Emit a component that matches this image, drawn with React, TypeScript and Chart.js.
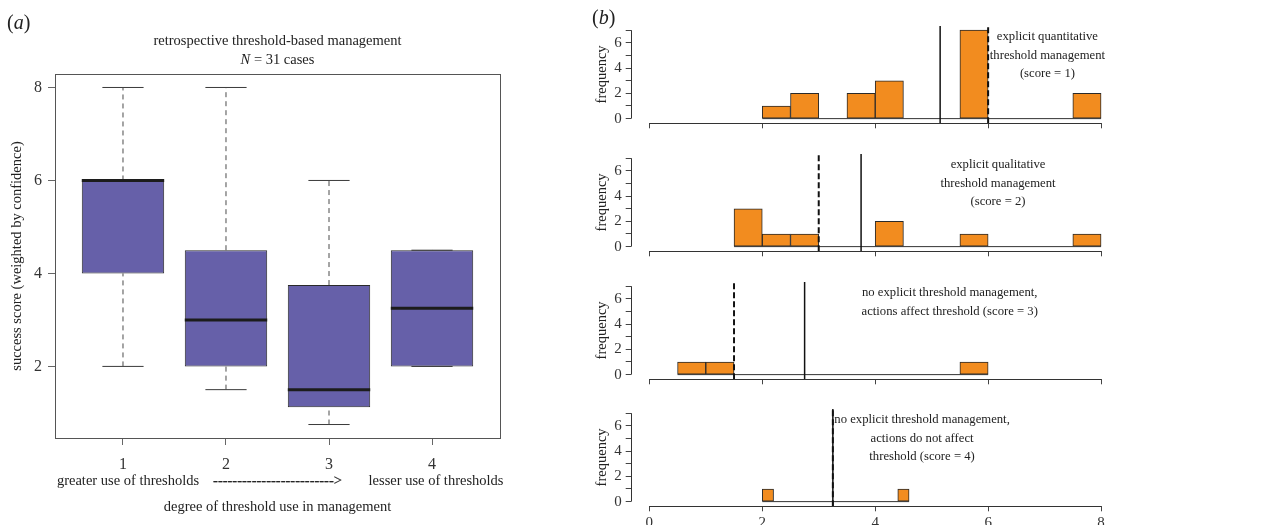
import React, { useEffect, useRef } from 'react';
import { Chart, registerables } from 'chart.js';

Chart.register(...registerables);

// ---------------- panel (a): box plot of success scores ----------------
const groupPositions = [1, 2, 3, 4];
const groupTickLabels = ['1', '2', '3', '4'];
const whiskerLow = [2, 1.5, 0.75, 2];
const quartileLow = [4, 2, 1.12, 2];
const medianScore = [6, 3, 1.5, 3.25];
const quartileHigh = [6, 4.5, 3.75, 4.5];
const whiskerHigh = [8, 8, 6, 4.5];
const yTicksA = [2, 4, 6, 8];
const yTickLabelsA = ['2', '4', '6', '8'];

// ---------------- panel (b): histograms per threshold-use score ----------------
const binStart = [2, 1.5, 0.5, 2];
const binWidth = [0.5, 0.5, 0.5, 0.2];
const countsScore1 = [1, 2, 0, 2, 3, 0, 0, 7, 0, 0, 0, 2];
const countsScore2 = [3, 1, 1, 0, 0, 2, 0, 0, 1, 0, 0, 0, 1];
const countsScore3 = [1, 1, 0, 0, 0, 0, 0, 0, 0, 0, 1];
const countsScore4 = [1, 0, 0, 0, 0, 0, 0, 0, 0, 0, 0, 0, 1];
const histCounts = [countsScore1, countsScore2, countsScore3, countsScore4];
const meanLine = [5.15, 3.75, 2.75, 3.25];
const medianLine = [6, 3, 1.5, 3.25];
const xTicksB = [0, 2, 4, 6, 8];
const xTickLabelsB = ['0', '2', '4', '6', '8'];
const yTicksB = [0, 1, 2, 3, 4, 5, 6, 7];
const yTickLabelsB = ['0', '', '2', '', '4', '', '6', ''];
const panelNotes = [
  ['explicit quantitative', 'threshold management', '(score = 1)'],
  ['explicit qualitative', 'threshold management', '(score = 2)'],
  ['no explicit threshold management,', 'actions affect threshold (score = 3)'],
  ['no explicit threshold management,', 'actions do not affect', 'threshold (score = 4)'],
];
const noteCenterX = [7.05, 6.175, 5.32, 4.83];

// ---------------- styling ----------------
const SERIF = '"Liberation Serif", "Times New Roman", Times, serif';
const fnt = (size: number, style = 'normal') => `${style} ${size}px ${SERIF}`;
const BOX_FILL = '#6660A9';
const BAR_FILL = '#F28C1F';
const INK = '#1c1c1c';
const AXIS = '#555555';

const A_X_MIN = 0.34, A_X_MAX = 4.66, A_Y_MIN = 0.46, A_Y_MAX = 8.29;
const B_X_MIN = -0.33, B_X_MAX = 8.33, B_Y_MIN = -0.37, B_Y_MAX = 7.33;

const PANEL_TOPS = [0, 128, 256, 383];
const PANEL_H = [140, 140, 140, 142];
const B_LEFT = 590, B_WIDTH = 684;

function lineSeg(points: { x: number; y: number }[], style: any) {
  return { type: 'line', data: points, pointRadius: 0, pointHoverRadius: 0, fill: false, tension: 0, ...style };
}

type Part = { t: string; italic?: boolean };
function drawRich(ctx: CanvasRenderingContext2D, parts: Part[], x: number, y: number, size: number, align: 'left' | 'center') {
  let total = 0;
  const widths = parts.map((p) => {
    ctx.font = fnt(size, p.italic ? 'italic' : 'normal');
    const w = ctx.measureText(p.t).width;
    total += w;
    return w;
  });
  let cx = align === 'center' ? x - total / 2 : x;
  ctx.textAlign = 'left';
  ctx.textBaseline = 'middle';
  parts.forEach((p, i) => {
    ctx.font = fnt(size, p.italic ? 'italic' : 'normal');
    ctx.fillText(p.t, cx, y);
    cx += widths[i];
  });
}

function drawText(ctx: CanvasRenderingContext2D, text: string, x: number, y: number, size: number, align: CanvasTextAlign = 'center', rotate = 0, heavy = 0) {
  ctx.save();
  ctx.font = fnt(size);
  ctx.textAlign = align;
  ctx.textBaseline = 'middle';
  ctx.translate(x, y);
  if (rotate) ctx.rotate(rotate);
  ctx.fillText(text, 0, 0);
  if (heavy) {
    ctx.strokeStyle = ctx.fillStyle as string;
    ctx.lineWidth = heavy;
    ctx.strokeText(text, 0, 0);
  }
  ctx.restore();
}

function boxplotConfig(): any {
  const BOX_HALF = 0.4;
  const CAP_HALF = 0.2;
  const datasets: any[] = [];
  groupPositions.forEach((g, i) => {
    datasets.push(
      lineSeg(
        [
          { x: g - BOX_HALF, y: medianScore[i] },
          { x: g + BOX_HALF, y: medianScore[i] },
        ],
        { borderColor: INK, borderWidth: 3, order: 0 }
      )
    );
  });
  datasets.push({
    type: 'bar',
    data: groupPositions.map((g, i) => ({ x: g, y: [quartileLow[i], quartileHigh[i]] })),
    backgroundColor: BOX_FILL,
    borderColor: '#2a2a2a',
    borderWidth: 1,
    borderSkipped: false,
    barPercentage: 0.8,
    categoryPercentage: 1,
    order: 1,
  });
  groupPositions.forEach((g, i) => {
    const whisk = { borderColor: '#4a4a4a', borderWidth: 1, borderDash: [5, 4], order: 2 };
    const cap = { borderColor: '#3a3a3a', borderWidth: 1, order: 2 };
    datasets.push(lineSeg([{ x: g, y: quartileHigh[i] }, { x: g, y: whiskerHigh[i] }], whisk));
    datasets.push(lineSeg([{ x: g, y: whiskerLow[i] }, { x: g, y: quartileLow[i] }], whisk));
    datasets.push(lineSeg([{ x: g - CAP_HALF, y: whiskerHigh[i] }, { x: g + CAP_HALF, y: whiskerHigh[i] }], cap));
    datasets.push(lineSeg([{ x: g - CAP_HALF, y: whiskerLow[i] }, { x: g + CAP_HALF, y: whiskerLow[i] }], cap));
  });

  const decor = {
    id: 'boxDecor',
    afterDraw(chart: any) {
      const { ctx, chartArea: a } = chart;
      const xs = chart.scales.x;
      ctx.save();
      ctx.strokeStyle = AXIS;
      ctx.lineWidth = 1;
      ctx.strokeRect(a.left + 0.5, a.top + 0.5, a.right - a.left, a.bottom - a.top);
      ctx.fillStyle = '#222';
      const cx = (a.left + a.right) / 2;
      drawRich(ctx, [{ t: '(' }, { t: 'a', italic: true }, { t: ')' }], 7, 24, 20, 'left');
      drawText(ctx, 'retrospective threshold-based management', cx, 41, 14.5);
      drawRich(ctx, [{ t: 'N', italic: true }, { t: ' = 31 cases' }], cx, 60, 14.5, 'center');
      drawText(ctx, 'success score (weighted by confidence)', 17, (a.top + a.bottom) / 2, 14.5, 'center', -Math.PI / 2);
      drawText(ctx, 'greater use of thresholds', xs.getPixelForValue(groupPositions[0]) + 5, 481, 14.5);
      drawText(ctx, '------------------------->', cx, 481, 14.5, 'center', 0, 0.25);
      drawText(ctx, 'lesser use of thresholds', xs.getPixelForValue(groupPositions[3]) + 4, 481, 14.5);
      drawText(ctx, 'degree of threshold use in management', cx, 507, 14.5);
      ctx.restore();
    },
  };

  return {
    type: 'bar',
    data: { datasets },
    plugins: [decor],
    options: {
      animation: false,
      responsive: false,
      maintainAspectRatio: false,
      events: [],
      layout: { padding: { top: 74, right: 80, left: 0, bottom: 0 } },
      plugins: { legend: { display: false }, tooltip: { enabled: false }, title: { display: false } },
      scales: {
        x: {
          type: 'linear',
          min: A_X_MIN,
          max: A_X_MAX,
          offset: false,
          afterBuildTicks: (s: any) => {
            s.ticks = groupPositions.map((v) => ({ value: v }));
          },
          afterFit: (s: any) => {
            s.height = 87;
            s.paddingLeft = 0;
            s.paddingRight = 0;
          },
          ticks: {
            callback: (_v: any, i: number) => groupTickLabels[i],
            font: { family: SERIF, size: 16 },
            color: '#333',
            padding: 10,
            maxRotation: 0,
            autoSkip: false,
          },
          grid: { display: true, drawOnChartArea: false, drawTicks: true, tickLength: 7, color: '#666', offset: false },
          border: { display: false },
        },
        y: {
          type: 'linear',
          min: A_Y_MIN,
          max: A_Y_MAX,
          afterBuildTicks: (s: any) => {
            s.ticks = yTicksA.map((v) => ({ value: v }));
          },
          afterFit: (s: any) => {
            s.width = 55;
            s.paddingTop = 0;
            s.paddingBottom = 0;
          },
          ticks: {
            callback: (_v: any, i: number) => yTickLabelsA[i],
            font: { family: SERIF, size: 16 },
            color: '#333',
            padding: 6,
            autoSkip: false,
          },
          grid: { display: true, drawOnChartArea: false, drawTicks: true, tickLength: 7, color: '#666' },
          border: { display: false },
        },
      },
    },
  };
}

function histConfig(k: number, height: number): any {
  const counts = histCounts[k];
  const start = binStart[k];
  const w = binWidth[k];
  const centers = counts.map((_c, i) => start + w * (i + 0.5));
  const end = start + w * counts.length;
  const datasets: any[] = [
    lineSeg([{ x: medianLine[k], y: B_Y_MIN }, { x: medianLine[k], y: B_Y_MAX }], {
      borderColor: '#111',
      borderWidth: 2,
      borderDash: [6, 3],
      order: 0,
    }),
    lineSeg([{ x: meanLine[k], y: B_Y_MIN }, { x: meanLine[k], y: B_Y_MAX }], {
      borderColor: '#111',
      borderWidth: 1.5,
      order: 1,
    }),
    {
      type: 'bar',
      data: centers.map((c, i) => ({ x: c, y: counts[i] })),
      backgroundColor: BAR_FILL,
      borderColor: '#2a2a2a',
      borderWidth: 1,
      borderSkipped: false,
      barPercentage: 1,
      categoryPercentage: 1,
      order: 2,
    },
    lineSeg([{ x: start, y: 0 }, { x: end, y: 0 }], { borderColor: '#333', borderWidth: 1, order: 3 }),
  ];
  const isBottom = k === histCounts.length - 1;

  const decor = {
    id: 'histDecor' + k,
    afterDraw(chart: any) {
      const { ctx, chartArea: a } = chart;
      const xs = chart.scales.x;
      const ys = chart.scales.y;
      ctx.save();
      ctx.strokeStyle = '#333';
      ctx.lineWidth = 1;
      ctx.beginPath();
      const xl = Math.round(a.left) + 0.5;
      ctx.moveTo(xl, ys.getPixelForValue(yTicksB[0]));
      ctx.lineTo(xl, ys.getPixelForValue(yTicksB[yTicksB.length - 1]));
      const yb = Math.round(a.bottom) + 0.5;
      ctx.moveTo(xs.getPixelForValue(xTicksB[0]), yb);
      ctx.lineTo(xs.getPixelForValue(xTicksB[xTicksB.length - 1]), yb);
      ctx.stroke();
      ctx.fillStyle = '#222';
      const midY = (ys.getPixelForValue(0) + ys.getPixelForValue(7)) / 2;
      drawText(ctx, 'frequency', 12.5, midY, 14.5, 'center', -Math.PI / 2);
      const nx = xs.getPixelForValue(noteCenterX[k]);
      panelNotes[k].forEach((line, i) => drawText(ctx, line, nx, a.top + 10.5 + i * 18.7, 12.7));
      if (k === 0) drawRich(ctx, [{ t: '(' }, { t: 'b', italic: true }, { t: ')' }], 2, 19, 20, 'left');
      ctx.restore();
    },
  };

  return {
    type: 'bar',
    data: { datasets },
    plugins: [decor],
    options: {
      animation: false,
      responsive: false,
      maintainAspectRatio: false,
      events: [],
      layout: { padding: { top: 26, right: B_WIDTH - 529.7, left: 0, bottom: 0 } },
      plugins: { legend: { display: false }, tooltip: { enabled: false }, title: { display: false } },
      scales: {
        x: {
          type: 'linear',
          min: B_X_MIN,
          max: B_X_MAX,
          offset: false,
          afterBuildTicks: (s: any) => {
            s.ticks = xTicksB.map((v) => ({ value: v }));
          },
          afterFit: (s: any) => {
            s.height = height - 123.3;
            s.paddingLeft = 0;
            s.paddingRight = 0;
          },
          ticks: {
            display: isBottom,
            callback: (_v: any, i: number) => xTickLabelsB[i],
            font: { family: SERIF, size: 15 },
            color: '#333',
            padding: 3,
            maxRotation: 0,
            autoSkip: false,
          },
          grid: { display: true, drawOnChartArea: false, drawTicks: true, tickLength: 5, color: '#444', offset: false },
          border: { display: false },
        },
        y: {
          type: 'linear',
          min: B_Y_MIN,
          max: B_Y_MAX,
          afterBuildTicks: (s: any) => {
            s.ticks = yTicksB.map((v) => ({ value: v }));
          },
          afterFit: (s: any) => {
            s.width = 40.7;
            s.paddingTop = 0;
            s.paddingBottom = 0;
          },
          ticks: {
            callback: (_v: any, i: number) => yTickLabelsB[i],
            font: { family: SERIF, size: 15 },
            color: '#333',
            padding: 4,
            autoSkip: false,
          },
          grid: { display: true, drawOnChartArea: false, drawTicks: true, tickLength: 5, color: '#444' },
          border: { display: false },
        },
      },
    },
  };
}

export default function App() {
  const boxRef = useRef<HTMLCanvasElement | null>(null);
  const histRefs = useRef<(HTMLCanvasElement | null)[]>([]);

  useEffect(() => {
    const charts: Chart[] = [];
    if (boxRef.current) charts.push(new Chart(boxRef.current, boxplotConfig()));
    histRefs.current.forEach((c, k) => {
      if (c) charts.push(new Chart(c, histConfig(k, PANEL_H[k])));
    });
    return () => charts.forEach((c) => c.destroy());
  }, []);

  return (
    <div style={{ position: 'absolute', left: 0, top: 0, width: 1274, height: 525, background: '#fff', overflow: 'hidden' }}>
      <canvas ref={boxRef} width={580} height={525} style={{ position: 'absolute', left: 0, top: 0, width: 580, height: 525 }} />
      {PANEL_TOPS.map((top, k) => (
        <canvas
          key={k}
          ref={(el) => {
            histRefs.current[k] = el;
          }}
          width={B_WIDTH}
          height={PANEL_H[k]}
          style={{ position: 'absolute', left: B_LEFT, top, width: B_WIDTH, height: PANEL_H[k] }}
        />
      ))}
    </div>
  );
}
